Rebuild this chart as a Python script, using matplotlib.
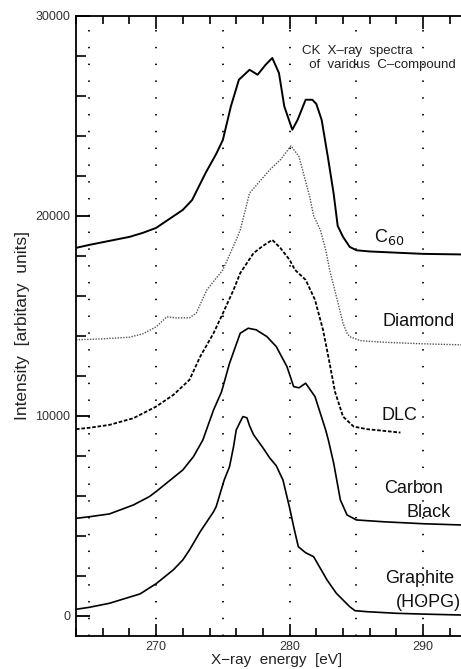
import matplotlib.pyplot as plt
from matplotlib.ticker import MultipleLocator, FixedLocator

plt.rcParams['font.family'] = ['Liberation Sans', 'DejaVu Sans']

# Spectra (energy in eV, intensity in arb. units)
c60_x = [264, 265, 266.5, 268, 269, 270, 271, 272, 272.7, 273.7, 274.5, 275, 275.6,
         276.2, 277.0, 277.6, 278.2, 278.7, 279.2, 279.6, 280.2, 280.6, 281.2, 281.7,
         282.0, 282.4, 282.9, 283.3, 283.6, 284, 284.5, 285, 286, 288, 290, 292, 294]
c60_y = [18400, 18550, 18750, 18950, 19150, 19400, 19850, 20300, 20800, 22140, 23100,
         23800, 25480, 26810, 27310, 27060, 27560, 27900, 27150, 25480, 24310, 24810,
         25810, 25810, 25600, 24800, 22800, 21100, 19500, 18950, 18450, 18280, 18220,
         18160, 18100, 18080, 18060]

diamond_x = [264, 266, 268, 269, 270, 270.8, 271.5, 272.5, 273, 273.8, 275.0, 275.8,
             276.0, 276.3, 277.0, 278.5, 279.3, 280.1, 280.7, 281.5, 281.8, 282.3,
             282.7, 283.0, 283.5, 284.0, 284.3, 284.5, 285.3, 287, 290, 292.8, 294]
diamond_y = [13800, 13850, 13930, 14100, 14450, 14950, 14900, 14900, 15130, 16300,
             17300, 18500, 18800, 19300, 21140, 22300, 22800, 23500, 22970, 20970,
             20000, 19300, 18300, 17300, 15970, 14630, 14130, 13960, 13760, 13680,
             13600, 13550, 13530]

dlc_x = [264, 265, 266.5, 268.3, 270, 271.3, 272.5, 273.3, 274.3, 275.0, 275.8, 276.3,
         277.3, 278.0, 278.7, 279.3, 280.0, 280.4, 281.2, 281.9, 282.5, 282.9, 283.4,
         284.0, 284.8, 285.8, 287, 288.3]
dlc_y = [9330, 9400, 9545, 9880, 10460, 11050, 11800, 12960, 14130, 15130, 16300,
         17140, 18140, 18500, 18800, 18400, 17800, 17300, 16800, 15800, 14300, 12960,
         11200, 9960, 9460, 9330, 9250, 9160]

cblack_x = [264, 265, 266.5, 268.3, 269.5, 270, 271, 272, 272.8, 273.5, 274.3, 274.9,
            275.5, 276.3, 276.9, 277.5, 278.3, 279.0, 279.8, 280.3, 280.7, 281.2, 281.9,
            282.7, 282.9, 283.3, 283.8, 284.3, 285, 287, 290, 292.8, 294]
cblack_y = [4870, 4950, 5090, 5540, 5960, 6210, 6750, 7290, 7960, 8790, 10290, 11200,
            12630, 14130, 14380, 14300, 13960, 13460, 12460, 11460, 11400, 11630, 10960,
            9290, 8790, 7630, 5790, 5040, 4790, 4700, 4600, 4540, 4520]

graphite_x = [264, 265, 266.5, 268.8, 269.5, 270, 271.3, 272, 272.5, 273.3, 274.3,
              274.5, 275.1, 275.5, 275.8, 276.0, 276.3, 276.5, 276.8, 277.0, 277.3,
              278, 278.5, 279, 279.5, 280, 280.3, 280.65, 281.2, 281.8, 282.8, 283.5,
              284.5, 284.9, 285.8, 288, 290, 292.8, 294]
graphite_y = [320, 420, 620, 1090, 1390, 1600, 2300, 2790, 3290, 4200, 5200, 5460,
              6790, 7460, 8460, 9290, 9700, 9960, 9900, 9500, 9050, 8400, 7900, 7500,
              6790, 5390, 4460, 3450, 3150, 2950, 1790, 1120, 450, 250, 200, 120, 80,
              35, 25]

grid_x = [265, 270, 275, 280, 285, 290, 295]

fig = plt.figure(figsize=(4.61, 6.69), dpi=100)
ax = fig.add_axes([0.1649, 0.0498, 0.8688, 0.9263])

for gx in grid_x:
    ax.axvline(gx, color='black', linewidth=1.3, linestyle=(0, (0.8, 8.5)), zorder=0)

ax.plot(c60_x, c60_y, color='black', linewidth=1.4)
ax.plot(diamond_x, diamond_y, color='#555555', linewidth=1.0, linestyle=(0, (1, 1)))
ax.plot(dlc_x, dlc_y, color='black', linewidth=1.3, linestyle=(0, (2, 1)))
ax.plot(cblack_x, cblack_y, color='black', linewidth=1.2)
ax.plot(graphite_x, graphite_y, color='black', linewidth=1.2)

ax.set_xlim(264, 294)
ax.set_ylim(-1000, 30000)

# labels next to each spectrum
lab_kw = dict(fontsize=13, ha='right', va='center', color='#111111')
ax.text(288.6, 18950, 'C$_{60}$', **lab_kw)
ax.text(292.4, 14700, 'Diamond', **lab_kw)
ax.text(289.6, 10000, 'DLC', **lab_kw)
ax.text(291.5, 6350, 'Carbon', **lab_kw)
ax.text(292.1, 5150, 'Black', **lab_kw)
ax.text(292.3, 1850, 'Graphite', **lab_kw)
ax.text(292.8, 650, '(HOPG)', **lab_kw)

ax.text(280.9, 27900, 'CK  X\u2013ray  spectra\n  of  varidus  C\u2013compound',
        fontsize=9.5, ha='left', va='center', color='#222222', linespacing=1.25)

ax.set_xlabel('X\u2212ray  energy  [eV]', fontsize=11, color='#222222', labelpad=0)
ax.set_ylabel('Intensity  [arbitary  units]', fontsize=12.5, color='#222222', labelpad=4)

ax.xaxis.set_major_locator(FixedLocator([270, 280, 290]))
ax.xaxis.set_minor_locator(MultipleLocator(2))
ax.yaxis.set_major_locator(MultipleLocator(10000))
ax.yaxis.set_minor_locator(MultipleLocator(2000))
ax.tick_params(which='both', direction='in', top=True, right=False, color='black',
               labelsize=9, labelcolor='#333333')
ax.tick_params(axis='x', which='major', length=9, width=1.2, pad=4)
ax.tick_params(axis='x', which='minor', length=6, width=1.2)
ax.tick_params(axis='y', which='major', length=10, width=1.3, pad=4)
ax.tick_params(axis='y', which='minor', length=7, width=1.2)
for s in ['left', 'bottom', 'top']:
    ax.spines[s].set_linewidth(1.3)
ax.spines['right'].set_visible(False)

fig.savefig('out.png', dpi=100)
